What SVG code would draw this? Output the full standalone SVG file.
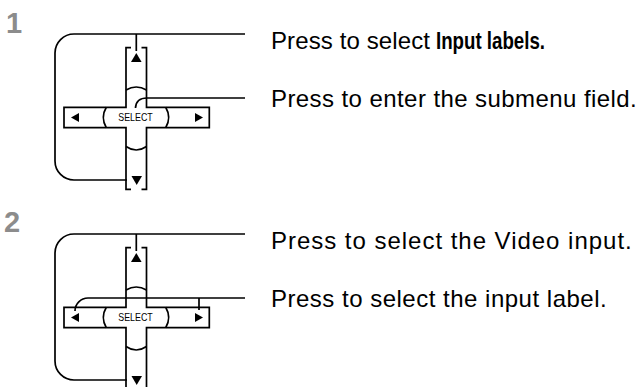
<svg xmlns="http://www.w3.org/2000/svg" width="639" height="387" viewBox="0 0 639 387">
<style>
.ln{fill:none;stroke:#000;stroke-width:1.7;stroke-linecap:butt;stroke-linejoin:miter}
.tri{fill:#000}
.num{font-family:"Liberation Sans",Arial,sans-serif;font-weight:bold;font-size:29px;fill:#8c8c8c}
.lbl{font-family:"Liberation Sans",Arial,sans-serif;font-size:24px;fill:#000}
.b{font-weight:bold;font-size:23px}
.sel{font-family:"Liberation Sans",Arial,sans-serif;font-size:10.5px;fill:#000}
</style>
<defs>
<g id="pad">
<path class="ln" d="M131,47.7 H126 V107.3 H64 V127.7 H126 V189.3 H131 M141.5,47.7 H146.5 V107.3 H209.3 V127.7 H146.5 V189.3 H141.5"/>
<path class="ln" d="M126,90 Q136.25,84 146.5,90 M126,146.5 Q136.25,153.5 146.5,146.5 M106.3,107.3 Q100.3,117.5 106.3,127.7 M165.7,107.3 Q171.7,117.5 165.7,127.7"/>
<polygon class="tri" points="136.3,53 131,62 141.6,62"/>
<polygon class="tri" points="131.5,176 142,176 136.7,185"/>
<polygon class="tri" points="71,117.5 79,113 79,122"/>
<polygon class="tri" points="195,113 195,122 203,117.5"/>
<text class="sel" x="135.5" y="121" text-anchor="middle" textLength="34.5" lengthAdjust="spacingAndGlyphs">SELECT</text>
</g>
</defs>
<g id="step1">
<text class="num" x="6" y="33">1</text>
</g>
<g id="step2">
<text class="num" x="4" y="232">2</text>
</g>
<g id="pad1"><use href="#pad"/></g>
<g id="pad2"><use href="#pad" transform="translate(0,200)"/></g>
<g id="connectors">
<path class="ln" d="M245,34 H74 A19,19 0 0 0 55,53 V161 A19,19 0 0 0 74,180 H127 M136.3,34 V51"/>
<path class="ln" d="M245,98 H147 Q136,98 135.5,108"/>
<path class="ln" d="M245,234 H74 A19,19 0 0 0 55,253 V361 A19,19 0 0 0 74,380 H127 M136.3,234 V251"/>
<path class="ln" d="M245,298 H88 A13,13 0 0 0 75,311 M199,298 V310"/>
</g>
<g id="label1">
<text class="lbl" x="271" y="48.5" textLength="159">Press to select</text>
<text class="lbl b" x="436" y="48.5" textLength="109" lengthAdjust="spacingAndGlyphs">Input labels.</text>
</g>
<g id="label2"><text class="lbl" x="271" y="106.5" textLength="365.7">Press to enter the submenu field.</text></g>
<g id="label3"><text class="lbl" x="271" y="248.5" textLength="360.7">Press to select the Video input.</text></g>
<g id="label4"><text class="lbl" x="271" y="306.5" textLength="335.7">Press to select the input label.</text></g>
</svg>
